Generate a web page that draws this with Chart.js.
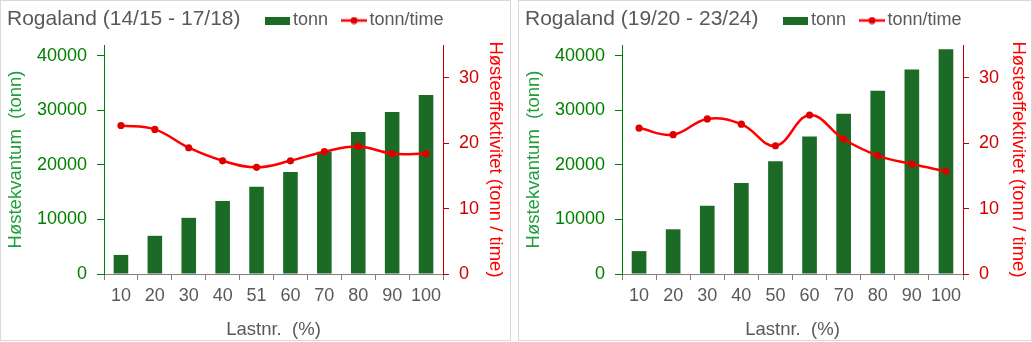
<!DOCTYPE html>
<html>
<head>
<meta charset="utf-8">
<script src="https://cdn.jsdelivr.net/npm/chart.js@4"></script>
<style>
  html, body { margin: 0; padding: 0; background: #fff; }
  .panel { position: absolute; top: 0; border: 1px solid #d9d9d9; background: #fff; }
  .panel canvas { display: block; }
</style>
</head>
<body>
<div class="panel" style="left:0px;"><canvas id="chartA" width="509" height="339"></canvas></div>
<div class="panel" style="left:518px;"><canvas id="chartB" width="512" height="339"></canvas></div>
<script>
// Rogaland 14/15 - 17/18
const titleA = 'Rogaland (14/15 - 17/18)';
const lastnrA = ['10', '20', '30', '40', '51', '60', '70', '80', '90', '100'];
const tonnA = [3500, 7000, 10300, 13400, 16000, 18700, 22400, 26050, 29700, 32850];
const effA = [22.7, 22.1, 19.3, 17.3, 16.3, 17.3, 18.7, 19.5, 18.4, 18.4];

// Rogaland 19/20 - 23/24
const titleB = 'Rogaland (19/20 - 23/24)';
const lastnrB = ['10', '20', '30', '40', '50', '60', '70', '80', '90', '100'];
const tonnB = [4200, 8200, 12500, 16700, 20700, 25200, 29400, 33600, 37500, 41200];
const effB = [22.3, 21.3, 23.7, 22.9, 19.6, 24.3, 20.6, 18.1, 16.8, 15.7];

// tick values of the two value axes
const tonnTicks = [0, 10000, 20000, 30000, 40000];
const effTicks = [0, 10, 20, 30];

const seriesNames = ['tonn', 'tonn/time'];
const xTitle = 'Lastnr.  (%)';
const yTitle = 'Høstekvantum  (tonn)';
const y1Title = 'Høsteeffektivitet (tonn / time)';

const FONT = '"Liberation Sans", Arial, sans-serif';
const BAR_COLOR = '#1b6b27';
const LINE_COLOR = '#ff0000';
const POINT_COLOR = '#dd0000';

// legend icons: a filled bar swatch and a line with a marker
function barIcon() {
  const c = document.createElement('canvas');
  c.width = 25; c.height = 8;
  const g = c.getContext('2d');
  g.fillStyle = BAR_COLOR;
  g.fillRect(0, 0, 25, 8);
  return c;
}
function lineIcon() {
  const c = document.createElement('canvas');
  c.width = 26; c.height = 8;
  const g = c.getContext('2d');
  g.strokeStyle = LINE_COLOR;
  g.lineWidth = 2.5;
  g.beginPath(); g.moveTo(0, 4); g.lineTo(26, 4); g.stroke();
  g.fillStyle = POINT_COLOR;
  g.beginPath(); g.arc(13, 4, 3.5, 0, Math.PI * 2); g.fill();
  return c;
}
const icons = [barIcon(), lineIcon()];

// puts the legend on the same row as the chart title
const legendBeside = {
  id: 'legendBeside',
  afterLayout(chart, _args, opts) {
    const lg = chart.legend;
    if (!lg) return;
    const pad = lg.options.labels.padding;
    const dx = opts.x - (lg.left + pad);
    lg.left += dx; lg.right += dx + 200;
    lg.top = opts.y - pad;
    lg.bottom = lg.top + pad + 40;
  }
};

function makeChart(id, title, labels, tonn, eff, plotLeft, plotRight, rightTitleOffset) {
  const canvas = document.getElementById(id);
  const W = canvas.width;
  return new Chart(canvas, {
    type: 'bar',
    data: {
      labels: labels,
      datasets: [
        {
          type: 'bar', label: seriesNames[0], data: tonn, yAxisID: 'y',
          backgroundColor: BAR_COLOR, categoryPercentage: 1, barPercentage: 0.43, order: 1
        },
        {
          type: 'line', label: seriesNames[1], data: eff, yAxisID: 'y1',
          borderColor: LINE_COLOR, borderWidth: 2.5, tension: 0.4,
          pointRadius: 3.6, pointBackgroundColor: POINT_COLOR, pointBorderColor: POINT_COLOR,
          pointBorderWidth: 0, order: 0
        }
      ]
    },
    options: {
      responsive: false,
      animation: false,
      layout: { padding: { left: 6, right: 0, top: 0, bottom: 0 } },
      plugins: {
        tooltip: { enabled: false },
        title: {
          display: true, text: title, align: 'start', color: '#595959',
          font: { family: FONT, size: 21, weight: 'normal' },
          padding: { top: 6, bottom: 12.8 }
        },
        legend: {
          display: true, position: 'top', align: 'start', maxHeight: 0.01,
          labels: {
            font: { family: FONT, size: 18 }, color: '#595959',
            usePointStyle: true, pointStyleWidth: 13, padding: 19.5,
            generateLabels(chart) {
              const items = Chart.defaults.plugins.legend.labels.generateLabels(chart);
              items.sort((a, b) => a.datasetIndex - b.datasetIndex);
              items.forEach(it => { it.pointStyle = icons[it.datasetIndex]; });
              return items;
            }
          }
        },
        legendBeside: { x: 270, y: 10.5 }
      },
      scales: {
        x: {
          type: 'category', offset: true,
          grid: { offset: true, drawOnChartArea: false, drawTicks: true, tickLength: 6, color: '#808080' },
          border: { color: '#808080', width: 1 },
          ticks: { color: '#595959', font: { family: FONT, size: 18 }, padding: 5, maxRotation: 0, autoSkip: false },
          title: { display: true, text: xTitle, color: '#595959', font: { family: FONT, size: 18.5 }, padding: { top: 0, bottom: -1.4 } },
          afterFit(s) { s.height = 66; }
        },
        y: {
          position: 'left', min: 0, max: 42000,
          afterBuildTicks(s) { s.ticks = tonnTicks.map(v => ({ value: v })); },
          ticks: { color: '#008000', font: { family: FONT, size: 18 }, padding: 10, callback: v => String(v) },
          grid: { drawOnChartArea: false, tickLength: 7, color: '#008000' },
          border: { color: '#008000' },
          title: { display: true, text: yTitle, color: '#1e9e3c', font: { family: FONT, size: 18.5 }, padding: { top: -2.6, bottom: 0 } },
          afterFit(s) { s.width = plotLeft - 6; }
        },
        y1: {
          position: 'right', min: 0, max: 35,
          afterBuildTicks(s) { s.ticks = effTicks.map(v => ({ value: v })); },
          ticks: { color: '#d00000', font: { family: FONT, size: 18 }, padding: 10, callback: v => String(v) },
          grid: { drawOnChartArea: false, tickLength: 6, color: '#c00000' },
          border: { color: '#c00000' },
          title: { display: true, text: y1Title, color: '#ff0000', font: { family: FONT, size: 18.5 }, padding: { top: rightTitleOffset - 11.1, bottom: 0 } },
          afterFit(s) { s.width = W - plotRight; }
        }
      }
    },
    plugins: [legendBeside]
  });
}

makeChart('chartA', titleA, lastnrA, tonnA, effA, 103, 442, 15);
makeChart('chartB', titleB, lastnrB, tonnB, effB, 103, 444, 13);
</script>
</body>
</html>
